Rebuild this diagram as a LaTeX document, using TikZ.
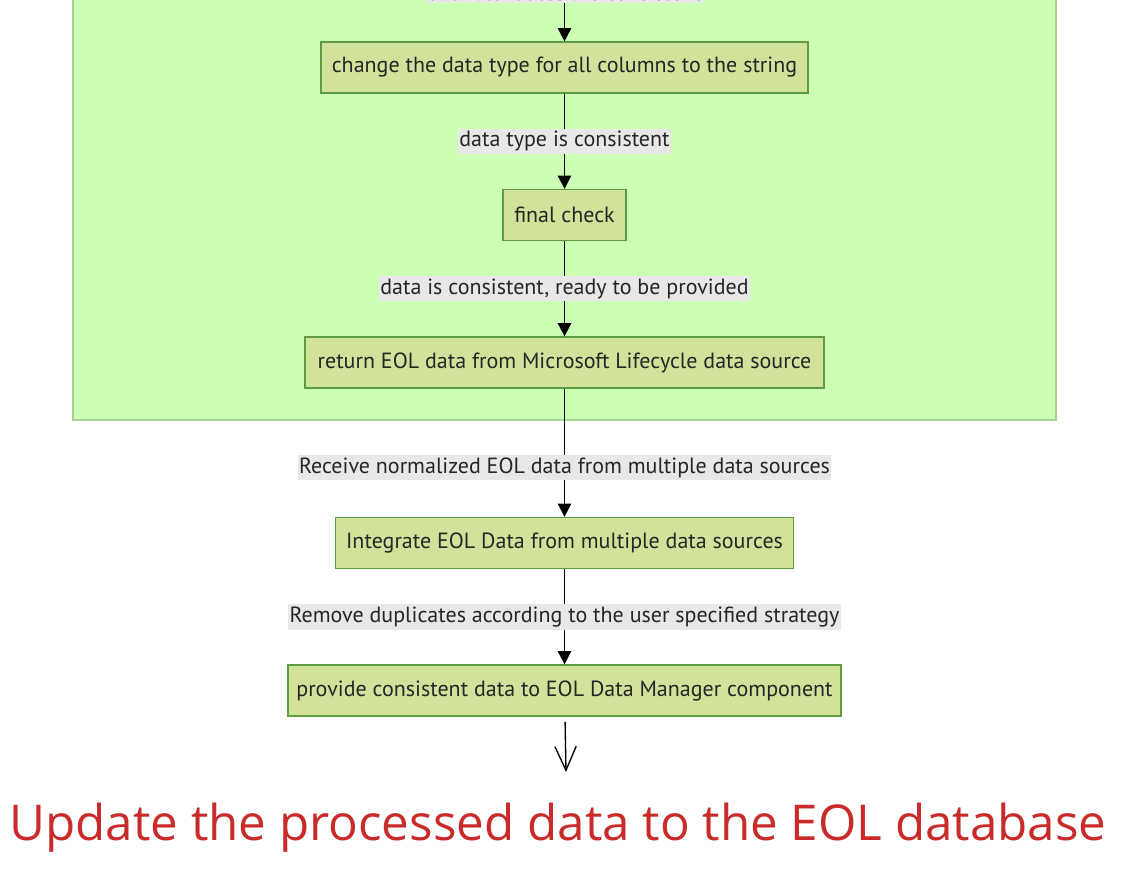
\documentclass[tikz,border=0pt]{standalone}
\usepackage{fontspec}
\setmainfont{PT Sans}
\newfontfamily\handfont{Open Sans}
\usetikzlibrary{arrows.meta}
\definecolor{clusterfill}{HTML}{CCFFB3}
\definecolor{clusterline}{HTML}{A5D391}
\definecolor{boxfill}{HTML}{D2E29A}
\definecolor{boxline}{HTML}{5E9B45}
\definecolor{lblgray}{HTML}{E8E8E8}
\definecolor{txtgray}{HTML}{262626}
\definecolor{updred}{HTML}{C92A2A}

\begin{document}
\begin{tikzpicture}[x=0.75pt,y=-0.75pt,
	box/.style={draw=boxline,fill=boxfill,line width=1.2pt,minimum height=38pt,inner sep=0pt,text=txtgray,font=\fontsize{16.5}{18}\selectfont},
	flow/.style={-{Triangle[length=10pt,width=10pt]},line width=1.4pt},
	lbl/.style={fill=lblgray,inner xsep=1pt,inner ysep=2pt,text=txtgray,font=\fontsize{16.5}{18}\selectfont}]
	\useasboundingbox (0,0) rectangle (1123,871);
	\filldraw[fill=clusterfill,draw=clusterline,line width=1pt] (73,-20) rectangle (1056,420);
	\node[box,minimum width=365pt] (change) at (564.5,67.5) {change the data type for all columns to the string};
	\node[box,minimum width=92pt] (final) at (564.5,215) {final check};
	\node[box,minimum width=389pt] (return) at (564.5,362.5) {return EOL data from Microsoft Lifecycle data source};
	\node[box,minimum width=343.5pt] (integrate) at (564.5,543) {Integrate EOL Data from multiple data sources};
	\node[box,minimum width=415pt] (provide) at (564.5,690.5) {provide consistent data to EOL Data Manager component};
	\coordinate (prev) at (564.5,-60);
	\coordinate (out) at (566,772);
	\draw[flow] (prev) -- node[lbl,pos=0.52] {data attributes are consistent} (change);
	\draw[flow] (change) -- node[lbl] {data type is consistent} (final);
	\draw[flow] (final) -- node[lbl] {data is consistent, ready to be provided} (return);
	\draw[flow] (return) -- node[lbl,pos=0.615] {Receive normalized EOL data from multiple data sources} (integrate);
	\draw[flow] (integrate) -- node[lbl] {Remove duplicates according to the user specified strategy} (provide);
	\draw[-{Straight Barb[length=18pt,width=16pt]},line width=1pt,shorten <=4pt] (provide) -- (out);
	\node[text=updred,font=\handfont\fontsize{37}{40}\selectfont] (update) at (558,828) {Update the processed data to the EOL database};
\end{tikzpicture}
\end{document}
